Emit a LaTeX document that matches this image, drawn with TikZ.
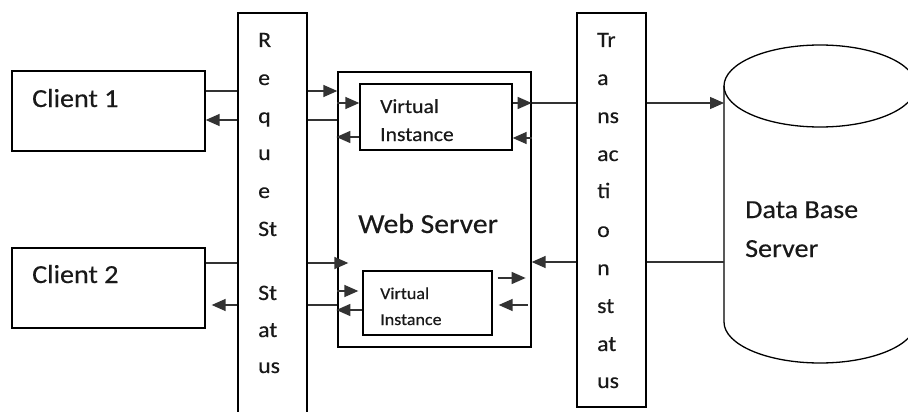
\documentclass[tikz,border=0pt]{standalone}
\usepackage{fontspec}
\setmainfont{Carlito}[FakeStretch=1.08,FakeBold=0.4]
\usetikzlibrary{arrows.meta}
\begin{document}
\begin{tikzpicture}[x=1pt,y=-1pt,
  box/.style={draw=black,line width=1.3pt,inner sep=0pt,fill=none},
  lbl/.style={anchor=base west,inner sep=0pt,text=black!90},
  wire/.style={draw=black!80,line width=1.4pt},
  arr/.style={wire,-{Triangle[length=14pt,width=12pt]}},
  bartext/.style={lbl,font=\fontsize{22}{24}\selectfont}
]
\useasboundingbox (0,0) rectangle (908,412);
\clip (0,0) rectangle (908,412);

% clients
\node[box,minimum width=193pt,minimum height=80pt] (client1) at (108.5,111) {};
\node[box,minimum width=193pt,minimum height=80pt] (client2) at (108.5,288) {};
\node[lbl,font=\fontsize{26}{28}\selectfont] (c1txt) at (32,107) {Client 1};
\node[lbl,font=\fontsize{26}{28}\selectfont] (c2txt) at (32,283) {Client 2};

% request / status bar
\node[box,minimum width=69pt,minimum height=417pt] (req) at (272.5,221.5) {};
\foreach \t/\yy [count=\i] in {R/47,e/85,q/123,u/160,e/198,St/236,St/300,at/337,us/373}
  \node[bartext] (rq\i) at (258,\yy) {\t};

% web server with two virtual instances
\node[box,minimum width=193pt,minimum height=275pt] (web) at (434.5,209.5) {};
\node[lbl,font=\fontsize{27.5}{30}\selectfont] (webtxt) at (358,233) {Web Server};
\node[box,minimum width=152pt,minimum height=66pt] (vi1) at (436,117) {};
\node[lbl,font=\fontsize{20}{22}\selectfont] (vi1a) at (380,113) {Virtual};
\node[lbl,font=\fontsize{20}{22}\selectfont] (vi1b) at (380,141) {Instance};
\node[box,minimum width=129pt,minimum height=64pt] (vi2) at (427.5,303) {};
\node[lbl,font=\fontsize{16.7}{19}\selectfont] (vi2a) at (380,299) {Virtual};
\node[lbl,font=\fontsize{16.7}{19}\selectfont] (vi2b) at (380,325) {Instance};

% transaction status bar
\node[box,minimum width=69pt,minimum height=394pt] (trans) at (611.5,210) {};
\foreach \t/\yy [count=\i] in {Tr/47,a/85,ns/123,ac/161,ti/198,o/237,n/275,st/313,at/351,us/388}
  \node[bartext] (tr\i) at (597,\yy) {\t};

% database server cylinder
\draw[line width=1.3pt] (820,86) ellipse [x radius=96, y radius=41];
\draw[line width=1.3pt] (724,86) -- (724,322) arc[start angle=180, end angle=0, x radius=96, y radius=41] -- (916,86);
\coordinate (db) at (724,200);
\node[lbl,font=\fontsize{26}{28}\selectfont] (dbtxt1) at (745,218) {Data Base};
\node[lbl,font=\fontsize{26}{28}\selectfont] (dbtxt2) at (745,257) {Server};

% client 1 <-> request bar <-> web server
\draw[wire] (client1.east |- 0,91) -- (req.west |- 0,91);
\draw[arr] (req.west |- 0,120) -- (client1.east |- 0,120);
\draw[arr] (req.east |- 0,91) -- (web.west |- 0,91);
\draw[wire] (req.east |- 0,120) -- (web.west |- 0,120);

% web server <-> virtual instance 1
\draw[arr] (web.west |- 0,103) -- (vi1.west |- 0,103);
\draw[arr,shorten >=-1pt] (vi1.west |- 0,137) -- (web.west |- 0,137);
\draw[arr] (vi1.east |- 0,103) -- (web.east |- 0,103);
\draw[arr] (web.east |- 0,138) -- (vi1.east |- 0,138);

% web server <-> transaction bar <-> database
\draw[wire] (web.east |- 0,103) -- (trans.west |- 0,103);
\draw[arr] (trans.east |- 0,103) -- (db |- 0,103);
\draw[arr] (trans.west |- 0,262) -- (web.east |- 0,262);
\draw[wire] (trans.east |- 0,262) -- (db |- 0,262);

% client 2 <-> request bar <-> web server
\draw[wire] (client2.east |- 0,263) -- (req.west |- 0,263);
\draw[arr,shorten >=6pt] (req.west |- 0,305) -- (client2.east |- 0,305);
\draw[arr,shorten >=-11pt] (req.east |- 0,263) -- (web.west |- 0,263);
\draw[wire] (req.east |- 0,305) -- (web.west |- 0,305);

% web server <-> virtual instance 2
\draw[arr,shorten >=4pt] (web.west |- 0,291) -- (vi2.west |- 0,291);
\draw[arr,shorten >=-1pt] (vi2.west |- 0,310) -- (web.west |- 0,310);
\draw[arr,shorten <=5pt,shorten >=6pt] (vi2.east |- 0,278) -- (web.east |- 0,278);
\draw[arr,shorten <=4pt,shorten >=6pt] (web.east |- 0,305) -- (vi2.east |- 0,305);
\end{tikzpicture}
\end{document}
